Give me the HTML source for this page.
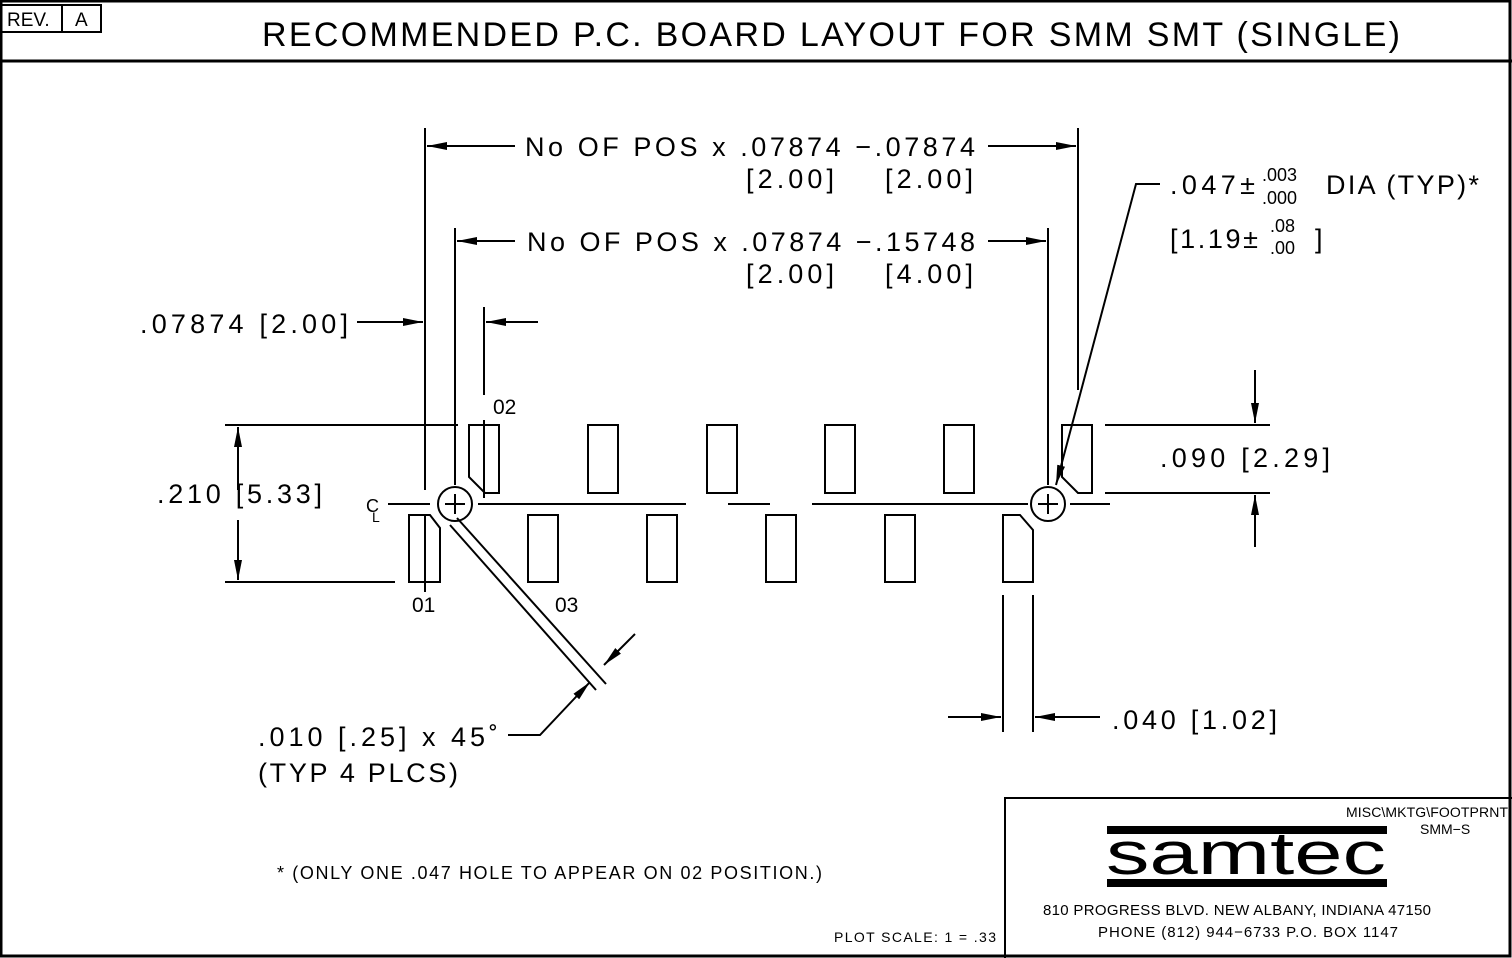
<!DOCTYPE html>
<html><head><meta charset="utf-8"><style>
html,body{margin:0;padding:0;background:#fff;}
svg{display:block;}
text{font-family:"Liberation Sans","DejaVu Sans",sans-serif;fill:#000;}
</style></head><body>
<svg width="1512" height="958" viewBox="0 0 1512 958" xmlns="http://www.w3.org/2000/svg">
<defs>
<marker id="a" viewBox="0 0 20 8" refX="20" refY="4" markerWidth="20" markerHeight="8" markerUnits="userSpaceOnUse" orient="auto">
<path d="M0,0 L20,4 L0,8 Z" fill="#000"/></marker>
</defs>
<g fill="none" stroke="#000" stroke-width="2">
<rect x="1" y="1" width="1509" height="955" stroke-width="3"/>
<line x1="0" y1="61" x2="1512" y2="61" stroke-width="3"/>
<rect x="1" y="5" width="61" height="27"/>
<rect x="62" y="5" width="39" height="27"/>
<path d="M1005,958 V798 H1512" stroke-width="2"/>
<path d="M469,425 H499 V493 H485 L469,477 Z"/>
<rect x="588" y="425" width="30" height="68"/>
<rect x="707" y="425" width="30" height="68"/>
<rect x="825" y="425" width="30" height="68"/>
<rect x="944" y="425" width="30" height="68"/>
<path d="M1062,425 H1092 V493 H1078 L1062,477 Z"/>
<path d="M409,515 H430 L440,528 V582 H409 Z"/>
<rect x="528" y="515" width="30" height="67"/>
<rect x="647" y="515" width="30" height="67"/>
<rect x="766" y="515" width="30" height="67"/>
<rect x="885" y="515" width="30" height="67"/>
<path d="M1003,515 H1020 L1033,530 V582 H1003 Z"/>
<line x1="388" y1="504" x2="430" y2="504"/>
<line x1="478" y1="504" x2="686" y2="504"/>
<line x1="728" y1="504" x2="770" y2="504"/>
<line x1="812" y1="504" x2="1028" y2="504"/>
<line x1="1070" y1="504" x2="1110" y2="504"/>
<circle cx="455" cy="504" r="17"/>
<path d="M445,504 H465 M455,494 V514"/>
<circle cx="1048" cy="504" r="17"/>
<path d="M1038,504 H1058 M1048,494 V514"/>
<line x1="425" y1="128" x2="425" y2="490"/>
<line x1="425" y1="515" x2="425" y2="592"/>
<line x1="455" y1="228" x2="455" y2="485"/>
<line x1="484" y1="307" x2="484" y2="395"/>
<line x1="484" y1="420" x2="484" y2="498"/>
<line x1="1078" y1="128" x2="1078" y2="390"/>
<line x1="1048" y1="228" x2="1048" y2="485"/>
<line x1="225" y1="425" x2="458" y2="425"/>
<line x1="225" y1="582" x2="395" y2="582"/>
<line x1="1105" y1="425" x2="1270" y2="425"/>
<line x1="1105" y1="493" x2="1270" y2="493"/>
<line x1="1003" y1="595" x2="1003" y2="732"/>
<line x1="1033" y1="595" x2="1033" y2="732"/>
<line x1="515" y1="146" x2="427" y2="146" marker-end="url(#a)"/>
<line x1="988" y1="146" x2="1076" y2="146" marker-end="url(#a)"/>
<line x1="515" y1="241" x2="457" y2="241" marker-end="url(#a)"/>
<line x1="988" y1="241" x2="1046" y2="241" marker-end="url(#a)"/>
<line x1="357" y1="322" x2="423" y2="322" marker-end="url(#a)"/>
<line x1="538" y1="322" x2="486" y2="322" marker-end="url(#a)"/>
<line x1="238" y1="490" x2="238" y2="427" marker-end="url(#a)"/>
<line x1="238" y1="520" x2="238" y2="580" marker-end="url(#a)"/>
<line x1="1255" y1="370" x2="1255" y2="423" marker-end="url(#a)"/>
<line x1="1255" y1="547" x2="1255" y2="495" marker-end="url(#a)"/>
<line x1="948" y1="717" x2="1001" y2="717" marker-end="url(#a)"/>
<line x1="1100" y1="717" x2="1035" y2="717" marker-end="url(#a)"/>
<path d="M1160,184 H1136 L1056,485" marker-end="url(#a)"/>
<line x1="450" y1="525" x2="596" y2="690"/>
<line x1="457" y1="518" x2="606" y2="684"/>
<line x1="635" y1="634" x2="604" y2="665" marker-end="url(#a)"/>
<path d="M508,735 H540 L590,682" marker-end="url(#a)"/>
</g>
<text x="7" y="26" font-size="19">REV.</text>
<text x="75" y="26" font-size="19">A</text>
<text x="832" y="46" font-size="34" text-anchor="middle" letter-spacing="2" textLength="1140">RECOMMENDED P.C. BOARD LAYOUT FOR SMM SMT (SINGLE)</text>
<g font-size="27">
<text x="525" y="156" textLength="450">No OF POS x .07874 −.07874</text>
<text x="746" y="188" textLength="88">[2.00]</text>
<text x="885" y="188" textLength="88">[2.00]</text>
<text x="527" y="251" textLength="448">No OF POS x .07874 −.15748</text>
<text x="746" y="283" textLength="88">[2.00]</text>
<text x="885" y="283" textLength="88">[4.00]</text>
<text x="140" y="333" textLength="208">.07874 [2.00]</text>
<text x="157" y="503" textLength="165">.210 [5.33]</text>
<text x="1160" y="467" textLength="170">.090 [2.29]</text>
<text x="1112" y="729" textLength="165">.040 [1.02]</text>
<text x="258" y="746" textLength="240">.010 [.25] x 45˚</text>
<text x="258" y="782" textLength="200">(TYP 4 PLCS)</text>
<text x="1170" y="194" textLength="85">.047±</text>
<text x="1326" y="194" textLength="153">DIA (TYP)*</text>
<text x="1170" y="248" textLength="88">[1.19±</text>
<text x="1315" y="248">]</text>
</g>
<g font-size="18">
<text x="1262" y="181">.003</text>
<text x="1262" y="204">.000</text>
<text x="1270" y="232">.08</text>
<text x="1270" y="254">.00</text>
</g>
<g font-size="21">
<text x="493" y="414">02</text>
<text x="412" y="612">01</text>
<text x="555" y="612">03</text>
</g>
<text x="366" y="512" font-size="18">C</text>
<text x="372" y="522" font-size="14">L</text>
<text x="277" y="879" font-size="18" textLength="545">* (ONLY ONE .047 HOLE TO APPEAR ON 02 POSITION.)</text>
<text x="834" y="942" font-size="14" textLength="162">PLOT SCALE: 1 = .33</text>
<text x="1346" y="817" font-size="14" textLength="162">MISC\MKTG\FOOTPRNT</text>
<text x="1420" y="834" font-size="14">SMM−S</text>
<text x="1043" y="915" font-size="15" textLength="388">810 PROGRESS BLVD.  NEW ALBANY, INDIANA 47150</text>
<text x="1098" y="937" font-size="15" textLength="300">PHONE (812) 944−6733  P.O. BOX 1147</text>
<rect x="1107" y="826" width="280" height="8" fill="#000"/>
<rect x="1107" y="879" width="280" height="8" fill="#000"/>
<text x="1246" y="874" font-size="60" text-anchor="middle" textLength="280" lengthAdjust="spacingAndGlyphs" font-family="DejaVu Sans, sans-serif">samtec</text>
</svg>
</body></html>
